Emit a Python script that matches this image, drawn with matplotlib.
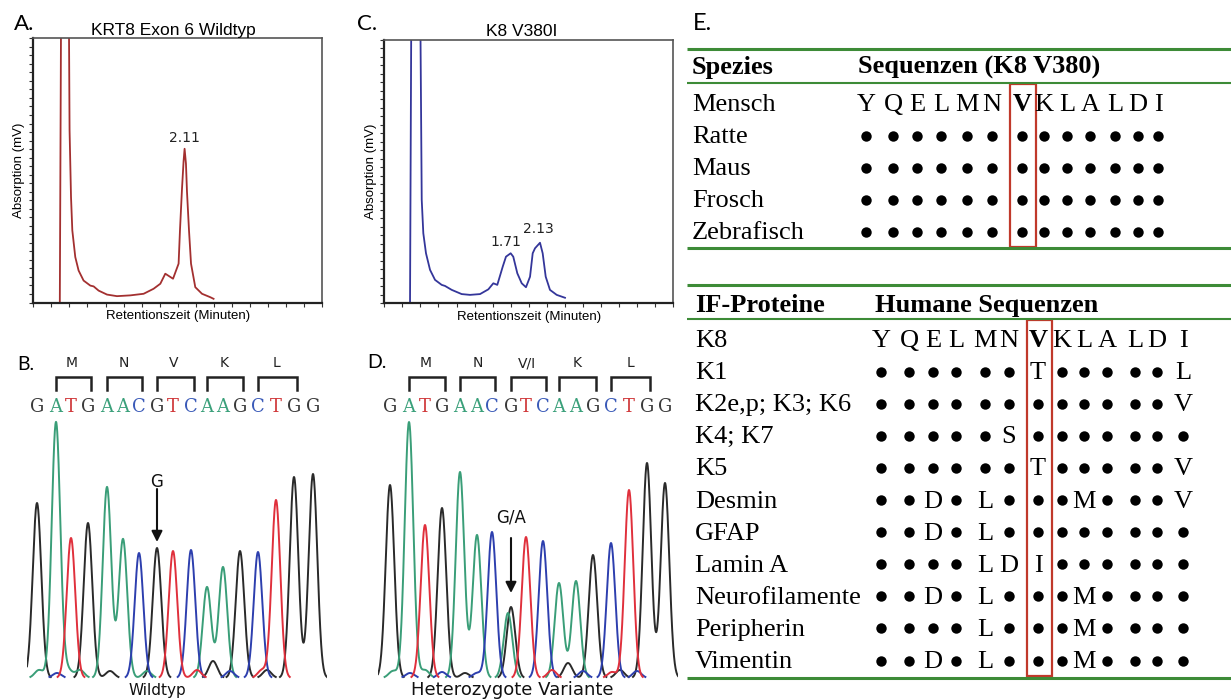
import numpy as np
import matplotlib.pyplot as plt
from matplotlib.patches import Rectangle

W, H = 1231, 700

# ---- A / C: HPLC traces (retention time in min, absorption in mV) ----
wt_time = [0.367, 0.43, 0.502, 0.522, 0.540, 0.581, 0.627, 0.696, 0.789, 0.835,
           0.904, 1.020, 1.158, 1.343, 1.527, 1.665, 1.758, 1.827, 1.934, 2.011,
           2.030, 2.058, 2.080, 2.094, 2.113, 2.127, 2.155, 2.183, 2.242, 2.335,
           2.450, 2.495]
wt_signal = [0.0, 400, 65.2, 39.9, 27.3, 17.2, 12.1, 8.3, 6.4, 6.1,
             4.5, 3.0, 2.4, 2.7, 3.3, 5.2, 7.1, 10.9, 9.0, 14.7,
             27.3, 43.0, 53.5, 58.2, 52.5, 42.0, 27.3, 14.7, 5.8, 3.3,
             2.0, 1.4]
var_time = [0.356, 0.42, 0.518, 0.540, 0.577, 0.633, 0.702, 0.794, 0.840, 0.933,
            1.071, 1.186, 1.325, 1.440, 1.509, 1.564, 1.639, 1.684, 1.749, 1.785,
            1.841, 1.902, 1.961, 2.017, 2.054, 2.086, 2.155, 2.192, 2.234, 2.293,
            2.386, 2.501]
var_signal = [0.0, 400, 39.3, 26.6, 19.0, 12.7, 8.9, 7.0, 6.6, 5.1,
              3.5, 3.2, 3.5, 5.3, 7.6, 7.0, 13.9, 17.7, 19.0, 17.7,
              11.4, 7.6, 6.1, 10.1, 19.0, 20.9, 23.0, 19.0, 10.1, 5.1,
              3.2, 2.1]
wt_peak_labels = [(2.094, 58.2, '2.11')]
var_peak_labels = [(1.749, 19.0, '1.71'), (2.155, 23.0, '2.13')]

# ---- B / D: sequencing traces ----
seq = 'GATGAACGTCAAGCTGG'
wt_pos = [12, 31, 46, 63, 82, 98, 114, 132, 148, 166, 182, 198, 215, 233, 251, 269, 288]
wt_height = [175, 256, 140, 155, 191, 139, 125, 130, 127, 128, 91, 111, 127, 126, 178, 201, 204]
wt_minor = [('A', 14, 8), ('C', 32, 5), ('A', 43, 8), ('A', 55, 8), ('G', 85, 7),
            ('A', 122, 7), ('T', 172, 8), ('G', 188, 17), ('C', 205, 7),
            ('T', 237, 8), ('G', 242, 8)]
var_pos = [15, 34, 50, 67, 85, 102, 117, 136, 151, 168, 184, 201, 218, 236, 254, 272, 290]
var_height = [193, 256, 153, 170, 206, 143, 146, 71, 141, 137, 95, 97, 123, 135, 188, 215, 195]
var_minor = [('A', 133, 65), ('A', 18, 7), ('C', 35, 5), ('A', 50, 8), ('C', 67, 6),
             ('G', 90, 5), ('C', 102, 5), ('T', 177, 8), ('G', 193, 15), ('C', 208, 7),
             ('T', 237, 6), ('G', 245, 8), ('C', 262, 7)]
wt_codons = [('M', 1, 3), ('N', 4, 6), ('V', 7, 9), ('K', 10, 12), ('L', 13, 15)]
var_codons = [('M', 1, 3), ('N', 4, 6), ('V/I', 7, 9), ('K', 10, 12), ('L', 13, 15)]
mut_index = 7

# ---- E: alignment tables ('.' = identical residue) ----
species = ['Mensch', 'Ratte', 'Maus', 'Frosch', 'Zebrafisch']
species_seq = ['YQELMNVKLALDI', '.............', '.............', '.............', '.............']
if_proteins = ['K8', 'K1', 'K2e,p; K3; K6', 'K4; K7', 'K5', 'Desmin', 'GFAP', 'Lamin A',
               'Neurofilamente', 'Peripherin', 'Vimentin']
if_seq = ['YQELMNVKLALDI', '......T.....L', '............V', '.....S.......', '......T.....V',
          '..D.L...M...V', '..D.L........', '....LDI......', '..D.L...M....',
          '....L...M....', '..D.L...M....']
site_col = 6

base_color = {'G': '#2a2a2a', 'A': '#3a9e78', 'T': '#e0303c', 'C': '#2d3fae'}
letter_color = {'G': '#3a3a3a', 'A': '#3aa07a', 'T': '#d0383a', 'C': '#3a5ab8'}
green = '#3d8b37'
red_box = '#c0392b'


def rect(x0, y0, x1, y1):
    return [x0 / W, 1 - y1 / H, (x1 - x0) / W, (y1 - y0) / H]


def ftext(x, y, s, **kw):
    fig.text(x / W, 1 - y / H, s, **kw)


fig = plt.figure(figsize=(W / 100, H / 100), dpi=100)


def hplc(box, t, s, color, labels, offsets):
    ax = fig.add_axes(rect(*box))
    ax.plot(t, s, color=color, lw=1.3)
    ax.set_xlim(0, 4)
    ax.set_ylim(0, 100)
    ax.set_xticks(np.arange(0, 4.01, 0.25))
    ax.set_yticks(np.linspace(0, 100, 32))
    ax.tick_params(labelleft=False, labelbottom=False, length=3, width=0.8,
                   direction='out', color='#333')
    for side in ['left', 'bottom']:
        ax.spines[side].set_linewidth(1.6)
        ax.spines[side].set_color('#222')
    for side in ['top', 'right']:
        ax.spines[side].set_linewidth(1.2)
        ax.spines[side].set_color('#555')
    for (pt, pv, lab), (dx, dy) in zip(labels, offsets):
        ax.annotate(lab, (pt, pv), xytext=(dx, dy), textcoords='offset pixels',
                    ha='center', va='center', fontsize=10, color='#222')
    return ax


hplc((33.3, 38.3, 322.3, 302.5), wt_time, wt_signal, '#a33030', wt_peak_labels, [(0, 11)])
hplc((384.3, 40, 673.3, 303.3), var_time, var_signal, '#34369a', var_peak_labels,
     [(-5, 11), (-1.5, 14)])

sans = 'Liberation Sans'
ftext(14, 24, 'A.', fontsize=16, family='Lato', va='center')
ftext(357, 24, 'C.', fontsize=16, family='Lato', va='center')
ftext(173, 30, 'KRT8 Exon 6 Wildtyp', fontsize=12.5, family=sans, ha='center', va='center')
ftext(522, 31, 'K8 V380I', fontsize=12.5, family=sans, ha='center', va='center')
ftext(19, 170, 'Absorption (mV)', fontsize=9.5, family=sans, rotation=90, ha='center', va='center')
ftext(371, 171, 'Absorption (mV)', fontsize=9.5, family=sans, rotation=90, ha='center', va='center')
ftext(178, 316, 'Retentionszeit (Minuten)', fontsize=9.5, family=sans, ha='center', va='center')
ftext(529, 317, 'Retentionszeit (Minuten)', fontsize=9.5, family=sans, ha='center', va='center')


def trace(box, xlim, pos, hgt, minor, codons, note, note_y, arrow_y):
    ax = fig.add_axes(rect(*box))
    ax.set_xlim(*xlim)
    ax.set_ylim(678 - box[3], 678 - box[1])
    ax.axis('off')
    x = np.linspace(xlim[0], xlim[1], 1500)
    sig = 4.3
    peaks = [(b, p, h) for b, p, h in zip(seq, pos, hgt)] + list(minor)
    for b in ['G', 'A', 'C', 'T']:
        y = np.zeros_like(x)
        for bb, p, h in peaks:
            if bb == b:
                y += h * np.exp(-(x - p) ** 2 / (2 * sig ** 2))
        y[y < 1.0] = np.nan
        ax.plot(x, y, color=base_color[b], lw=1.4)
    for b, p in zip(seq, pos):
        ax.text(p, 271, b, color=letter_color[b], family='DejaVu Serif',
                fontsize=13, ha='center', va='center')
    for aa, i0, i1 in codons:
        x0, x1 = pos[i0] - 0.5, pos[i1] + 2.5
        ax.plot([x0, x0, x1, x1], [288, 301, 301, 288], color='#222', lw=1.8,
                solid_joinstyle='miter')
        ax.text(pos[(i0 + i1) // 2] + 1, 315, aa, fontsize=10, ha='center', va='center',
                color='#222')
    xm = pos[mut_index]
    ax.text(xm, note_y, note, fontsize=12, ha='center', va='center', color='#111')
    ax.annotate('', xy=(xm, arrow_y[1]), xytext=(xm, arrow_y[0]),
                arrowprops=dict(arrowstyle='-|>', color='#111', lw=1.5,
                                mutation_scale=16, shrinkA=0, shrinkB=0))


trace((27, 340, 327, 695), (2, 302), wt_pos, wt_height, wt_minor, wt_codons,
      'G', 196, (189, 136))
trace((378, 340, 678, 695), (3, 303), var_pos, var_height, var_minor, var_codons,
      'G/A', 160, (140, 85))
ftext(17, 365, 'B.', fontsize=14, family='Lato', va='center')
ftext(367, 363, 'D.', fontsize=14, family='Lato', va='center')
ftext(157, 690, 'Wildtyp', fontsize=11, ha='center', va='center', color='#111')
ftext(512, 690, 'Heterozygote Variante', fontsize=13, ha='center', va='center', color='#111')

# ---- E ----
ae = fig.add_axes([680 / W, 0, 551 / W, 1])
ae.set_xlim(680, 1231)
ae.set_ylim(700, 0)
ae.axis('off')
serif = 'Liberation Serif'
ftext(693, 23, 'E.', fontsize=17, family='Lato', va='center')


def table(lines, head_base, first_base, step, labels, seqs, headers, cols, box, label_x, head2_x):
    for y, lw in zip(lines, [2.2, 1.5, 2.2]):
        ae.plot([687, 1231], [y, y], color=green, lw=lw, solid_capstyle='butt')
    ae.text(label_x, head_base, headers[0], family=serif, fontsize=19, weight='bold',
            va='baseline', ha='left')
    ae.text(head2_x, head_base, headers[1], family=serif, fontsize=19, weight='bold',
            va='baseline', ha='left')
    for r, (lab, s) in enumerate(zip(labels, seqs)):
        yb = first_base + r * step
        ae.text(label_x, yb, lab, family=serif, fontsize=19, va='baseline', ha='left')
        dots = [cols[c] for c, ch in enumerate(s) if ch == '.']
        ae.plot(dots, [yb - 7.5] * len(dots), 'o', color='black', ms=7.5, mew=0)
        for c, ch in enumerate(s):
            if ch != '.':
                bold = (r == 0 and c == site_col)
                ae.text(cols[c], yb, ch, family=serif, fontsize=19, va='baseline',
                        ha='center', weight='bold' if bold else 'normal')
    ae.add_patch(Rectangle((box[0], box[1]), box[2] - box[0], box[3] - box[1],
                           fill=False, ec=red_box, lw=1.6))


cols_up = [866, 893, 917, 941, 967, 992, 1022, 1044, 1067, 1090, 1115, 1138, 1158]
cols_lo = [881, 909, 933, 956, 985, 1009, 1038, 1062, 1084, 1107, 1135, 1157, 1183]
table((49, 83, 248), 74, 111, 32, species, species_seq,
      ('Spezies', 'Sequenzen (K8 V380)'), cols_up, (1010, 84, 1036, 247), 692, 858)
table((285, 319, 678), 312, 347, 32.1, if_proteins, if_seq,
      ('IF-Proteine', 'Humane Sequenzen'), cols_lo, (1027, 320, 1052, 676), 695, 875)

fig.savefig('out.png', dpi=100)
